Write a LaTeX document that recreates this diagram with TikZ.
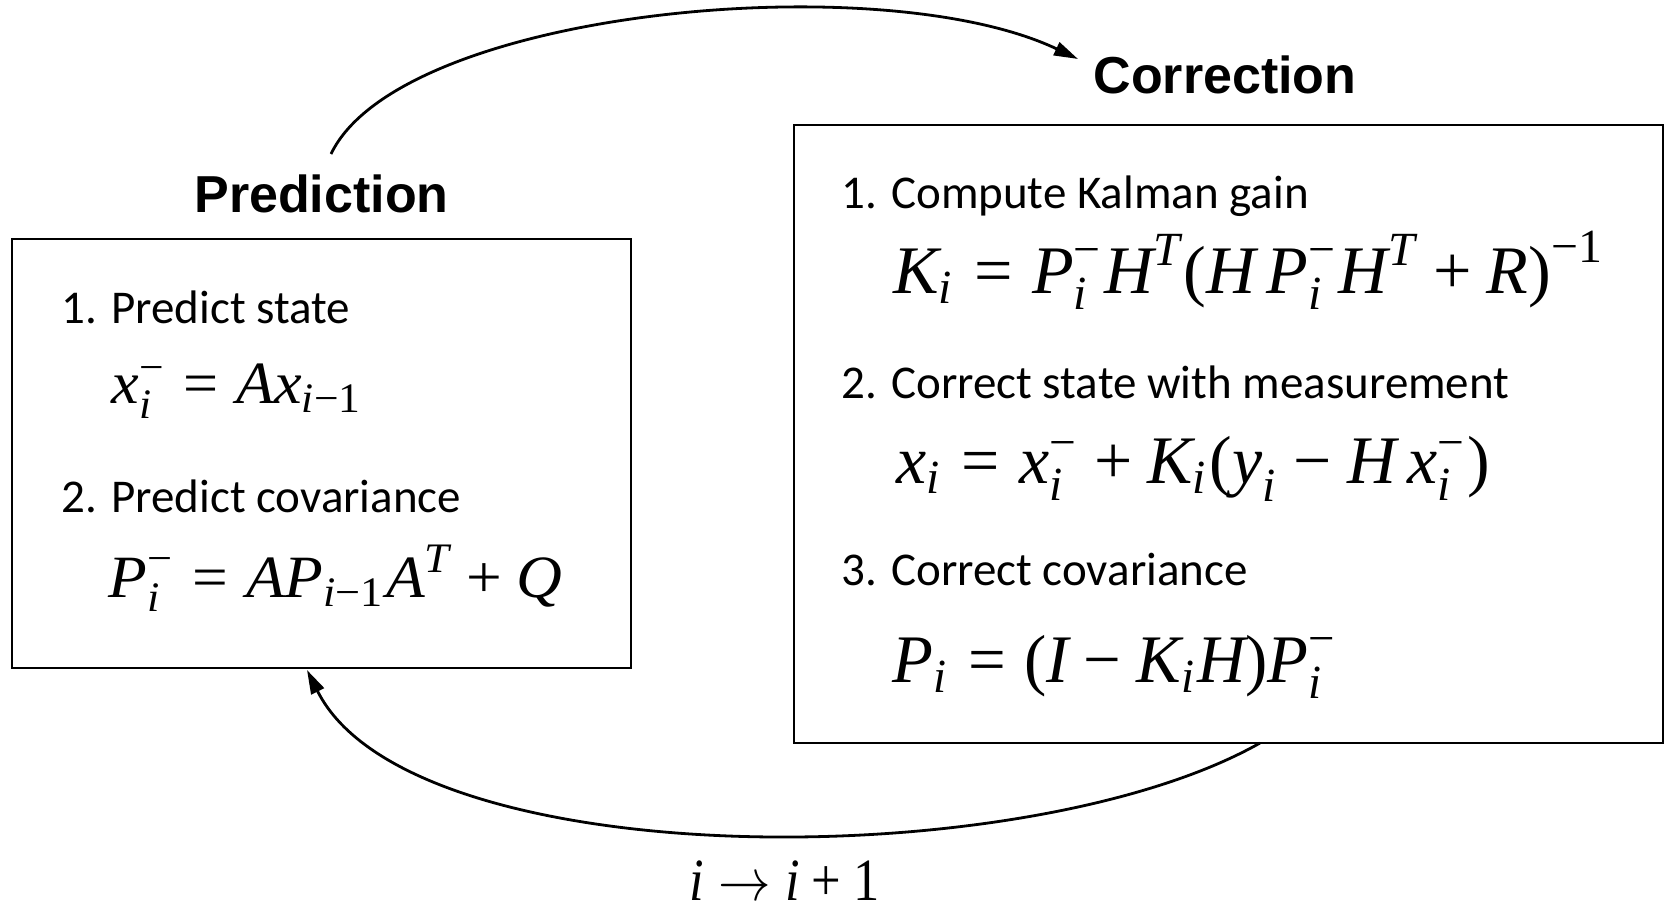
\documentclass[tikz,border=0pt]{standalone}
\usepackage{amsmath}
\usepackage{fontspec}
\setmainfont{Liberation Serif}
\newfontfamily\lblfont{Carlito}
\newfontfamily\ttlfont{Liberation Sans}
\usepackage{graphicx}
\usetikzlibrary{arrows.meta}
\newcommand\mi[1]{\text{\normalfont\itshape #1}}
\newcommand\mr[1]{\text{\normalfont #1}}
\newcommand\teq{\mathrel{\text{\normalfont =}}}
\newcommand\tplus{\mathbin{\text{\normalfont +}}}
\newcommand\tminus{\mathbin{\text{\normalfont −}}}
\newcommand\tsup{\text{\normalfont −}}
\newcommand\tlp{\mathopen{\text{\normalfont (}}}
\newcommand\trp{\mathclose{\text{\normalfont )}}}
\tikzset{
  box/.style={draw, line width=1.3pt, inner sep=0pt, rectangle},
  lbl/.style={anchor=base west, inner sep=0pt, font=\lblfont\fontsize{23.5}{28}\selectfont},
  eqn/.style={anchor=base west, inner sep=0pt, font=\normalsize},
  ttl/.style={anchor=base, inner sep=0pt, font=\ttlfont\bfseries\fontsize{26}{31}\selectfont},
  conn/.style={line width=1.4pt, -{Triangle[length=12pt,width=7pt]}},
}
\begin{document}
\begin{tikzpicture}[x=0.5pt,y=-0.5pt]
\useasboundingbox (0,0) rectangle (1669,910);
% titles
\node[ttl] (pred) at (321.5,212) {Prediction};
\node[ttl] (corr) at (1225,93) {Correction};
% boxes
\node[box, minimum width=309.5pt, minimum height=214.5pt] (lbox) at (321.5,453.5) {};
\node[box, minimum width=434.5pt, minimum height=309pt] (rbox) at (1228.5,434) {};
% left box content
\node[lbl] (l1) at (61,323) {1. Predict state};
\node[eqn] (e1) at (111,403) {\resizebox{126pt}{3\height}{$\mi{x}_{\mi{i}}^{\tsup} \teq \mi{Ax}_{\mi{i}\tminus\mr{1}}$}};
\node[lbl] (l2) at (61,512) {2. Predict covariance};
\node[eqn] (e2) at (108,597) {\resizebox{227pt}{3\height}{$\mi{P}_{\mi{i}}^{\tsup} \teq \mi{AP}_{\mi{i}\tminus\mr{1}}\mi{A}^{\mi{T}} \tplus \mi{Q}$}};
% right box content
\node[lbl] (r1) at (841,208) {1. Compute Kalman gain};
\node[eqn] (e3) at (893,293) {\resizebox{356pt}{3.4\height}{$\mi{K}_{\mi{i}} \teq \mi{P}_{\mi{i}}^{\tsup}\mi{H}^{\mi{T}}\tlp\mi{H}\,\mi{P}_{\mi{i}}^{\tsup}\mi{H}^{\mi{T}} \tplus \mi{R}\trp^{\tsup\mr{1}}$}};
\node[lbl] (r2) at (841,398) {2. Correct state with measurement};
\node[eqn] (e4) at (896,483) {\resizebox{297pt}{3.4\height}{$\mi{x}_{\mi{i}} \teq \mi{x}_{\mi{i}}^{\tsup} \tplus \mi{K}_{\mi{i}}\tlp\mi{y}_{\mi{i}} \tminus \mi{H}\,\mi{x}_{\mi{i}}^{\tsup}\trp$}};
\node[lbl] (r3) at (841,585) {3. Correct covariance};
\node[eqn] (e5) at (892,682) {\resizebox{223pt}{3.4\height}{$\mi{P}_{\mi{i}} \teq \tlp\mi{I} \tminus \mi{K}_{\mi{i}}\mi{H}\trp\mi{P}_{\mi{i}}^{\tsup}$}};
% loop label
\node[eqn] (loop) at (689,900) {\resizebox{95pt}{3\height}{$\mi{i} \rightarrow \mi{i} \tplus \mr{1}$}};
% connectors
\coordinate (ts) at (331,154);
\coordinate (te) at (1078,59);
\coordinate (bs) at (1260,743);
\coordinate (be) at (307,670);
\draw[conn] (ts) .. controls (400,10) and (880,-35) .. (te);
\draw[conn] (bs) .. controls (1025,876) and (410,876) .. (be);
\end{tikzpicture}
\end{document}
